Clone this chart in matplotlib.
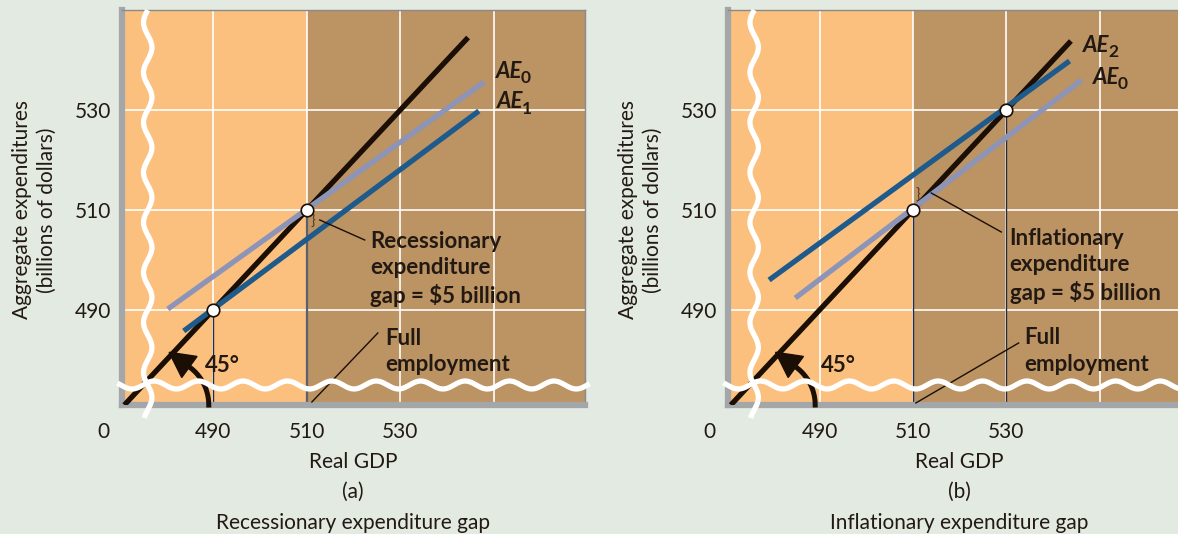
import numpy as np
import matplotlib
matplotlib.use("Agg")
import matplotlib.pyplot as plt
from matplotlib.patches import Polygon
from matplotlib.transforms import IdentityTransform

plt.rcParams['font.family'] = ['Lato', 'DejaVu Sans']

# ---- data ----
ticks = [490, 510, 530]
tick_labels = ['490', '510', '530']
full_employment = 510

# panel (a): recessionary gap
diag_a = [471.0, 544.5]                 # 45-degree line, y = x
ae0_a_x = [480.3, 547.9]
ae0_a_y = [490.2, 535.6]
ae1_a_x = [483.7, 546.8]
ae1_a_y = [485.8, 529.8]
eq_a = [490, 510]                       # equilibrium points on the 45 line

# panel (b): inflationary gap
diag_b = [471.0, 543.8]
ae2_b_x = [479.2, 543.5]
ae2_b_y = [496.0, 539.8]
ae0_b_x = [484.8, 546.1]
ae0_b_y = [492.4, 536.0]
eq_b = [510, 530]

ORANGE = '#fcc07e'
BROWN = '#bc9363'
BG = '#e2eae2'
INK = '#221a12'
DARK = '#1a0e05'
BLUE = '#1e5a8c'
LIGHT = '#8c94b8'
FS = 15        # regular text
FB = 16        # bold annotations

fig = plt.figure(figsize=(11.78, 5.34), dpi=100, facecolor=BG)


def wavy(ax, xlim, ylim):
    # axis-break squiggles
    yy = np.linspace(ylim[1], ylim[0] - 2.6, 300)
    ax.plot(476 + 0.9 * np.sin(2 * np.pi * yy / 10.0), yy, color='white',
            lw=3.8, clip_on=False, zorder=8, solid_capstyle='butt')
    xx = np.linspace(xlim[0] - 1.0, xlim[1] + 1.0, 400)
    ax.plot(xx, 475 + 0.8 * np.sin(2 * np.pi * xx / 9.5), color='white',
            lw=3.8, clip_on=False, zorder=8, solid_capstyle='butt')


def base_panel(rect, xlim, ylim):
    ax = fig.add_axes(rect)
    ax.set_xlim(*xlim)
    ax.set_ylim(*ylim)
    ax.axvspan(xlim[0], full_employment, color=ORANGE, zorder=0, lw=0)
    ax.axvspan(full_employment, xlim[1], color=BROWN, zorder=0, lw=0)
    for t in ticks + [550]:
        ax.axvline(t, color='white', lw=1.2, zorder=1)
    for t in ticks:
        ax.axhline(t, color='white', lw=1.2, zorder=1)
    ax.set_xticks(ticks)
    ax.set_xticklabels(tick_labels)
    ax.set_yticks(ticks)
    ax.set_yticklabels(tick_labels)
    ax.tick_params(length=0, labelsize=FS, labelcolor=INK)
    ax.tick_params(axis='x', pad=12)
    ax.tick_params(axis='y', pad=8)
    for s in ['left', 'bottom']:
        ax.spines[s].set_color('#a4a7aa')
        ax.spines[s].set_linewidth(4.5)
    for s in ['top', 'right']:
        ax.spines[s].set_color('#8a8a8a')
        ax.spines[s].set_linewidth(1)
    ax.annotate('0', xy=(466.5, 0), xycoords=('data', 'axes fraction'),
                xytext=(0, -19.5), textcoords='offset points',
                ha='center', va='center', fontsize=FS, color=INK,
                annotation_clip=False)
    ax.text(-0.19, 0.494, 'Aggregate expenditures\n(billions of dollars)',
            transform=ax.transAxes, rotation=90, ha='center', va='center',
            fontsize=FS, color=INK, linespacing=1.3)
    wavy(ax, xlim, ylim)
    return ax


def ae_label(ax, x, y, sub):
    t = ax.text(x, y, 'AE', fontsize=16, fontweight='bold', fontstyle='italic',
                color=INK, va='center', ha='left', zorder=9)
    ax.annotate(sub, xy=(1, 0), xycoords=t, xytext=(-1, -3),
                textcoords='offset points', fontsize=12.5, fontweight='bold',
                color=INK, va='bottom', ha='left', zorder=9)


def angle_mark(ax, centre, tx):
    # curved arrow showing the 45 degree angle, built in pixel space
    cx, cy = ax.transData.transform(centre)
    r = 47
    th = np.radians(np.linspace(0, 54, 40))
    ax.plot(cx + r * np.cos(th), cy + r * np.sin(th), color=DARK, lw=3.6,
            transform=IdentityTransform(), zorder=5, clip_on=False)
    t_end = th[-1]
    px, py = cx + r * np.cos(t_end), cy + r * np.sin(t_end)
    tx_, ty_ = -np.sin(t_end), np.cos(t_end)
    nx_, ny_ = ty_, -tx_
    L, W = 25, 13
    head = [(px + L * tx_, py + L * ty_),
            (px + W * nx_, py + W * ny_),
            (px - W * nx_, py - W * ny_)]
    ax.add_patch(Polygon(head, closed=True, color=DARK, transform=IdentityTransform(),
                         zorder=5, clip_on=False))
    ax.text(tx, 479, '45°', fontsize=FB, fontweight='bold', color=INK,
            va='center', ha='left', zorder=9)


# ---------------- panel (a) ----------------
xa, ya = (470.5, 569.5), (471.0, 550.0)
ax = base_panel([122 / 1178, 1 - 405 / 534, 463 / 1178, 395 / 534], xa, ya)
ax.plot([eq_a[0], eq_a[0]], [ya[0], eq_a[0]], color='#2a2a3a', lw=1, zorder=2)
ax.plot([full_employment] * 2, [ya[0], eq_a[1]], color='#5a6070', lw=1.6, zorder=2)
ax.plot(diag_a, diag_a, color=DARK, lw=3.8, zorder=3, solid_capstyle='butt')
ax.plot(ae0_a_x, ae0_a_y, color=LIGHT, lw=3.8, zorder=3, solid_capstyle='butt')
ax.plot(ae1_a_x, ae1_a_y, color=BLUE, lw=3.8, zorder=4, solid_capstyle='butt')
ax.plot(eq_a, eq_a, 'o', ms=9, mfc='white', mec=DARK, mew=1.2, zorder=6)
ax.text(511.4, 507.6, '}', fontsize=11, color='#5a3a1a', ha='center', va='center', zorder=5)
ax.plot([512.8, 522.4], [508.0, 504.0], color=DARK, lw=1, zorder=5)
ax.text(523.5, 498.2, 'Recessionary\nexpenditure\ngap = $5 billion', fontsize=FB,
        fontweight='bold', color=INK, ha='left', va='center', linespacing=1.33, zorder=9)
ax.plot([511.1, 525.2], [471.6, 485.4], color=DARK, lw=1, zorder=5)
ax.text(526.7, 481.7, 'Full\nemployment', fontsize=FB, fontweight='bold', color=INK,
        ha='left', va='center', linespacing=1.33, zorder=9)
ae_label(ax, 550.4, 537.8, '0')
ae_label(ax, 550.6, 531.6, '1')
angle_mark(ax, (479.0, 471.0), 488.2)

fig.text(353 / 1178, 1 - 462 / 534, 'Real GDP', ha='center', va='center', fontsize=FS, color=INK)
fig.text(353 / 1178, 1 - 492 / 534, '(a)', ha='center', va='center', fontsize=FS, color=INK)
fig.text(353 / 1178, 1 - 523 / 534, 'Recessionary expenditure gap', ha='center', va='center',
         fontsize=FS, color=INK)

# ---------------- panel (b) ----------------
xb, yb = (470.4, 569.5), (471.0, 550.0)
bx = base_panel([728 / 1178, 1 - 405 / 534, 463 / 1178, 395 / 534], xb, yb)
for e in eq_b:
    bx.plot([e, e], [yb[0], e], color='#2a2a3a', lw=1, zorder=2)
bx.plot(diag_b, diag_b, color=DARK, lw=3.8, zorder=3, solid_capstyle='butt')
bx.plot(ae0_b_x, ae0_b_y, color=LIGHT, lw=3.8, zorder=3, solid_capstyle='butt')
bx.plot(ae2_b_x, ae2_b_y, color=BLUE, lw=3.8, zorder=4, solid_capstyle='butt')
bx.plot(eq_b, eq_b, 'o', ms=9, mfc='white', mec=DARK, mew=1.2, zorder=6)
bx.text(511.0, 512.8, '}', fontsize=11, color='#5a3a1a', ha='center', va='center', zorder=5)
bx.plot([513.9, 528.9], [513.4, 505.6], color=DARK, lw=1, zorder=5)
bx.text(530.7, 498.8, 'Inflationary\nexpenditure\ngap = $5 billion', fontsize=FB,
        fontweight='bold', color=INK, ha='left', va='center', linespacing=1.33, zorder=9)
bx.plot([510.6, 532.6], [471.4, 483.4], color=DARK, lw=1, zorder=5)
bx.text(533.9, 481.8, 'Full\nemployment', fontsize=FB, fontweight='bold', color=INK,
        ha='left', va='center', linespacing=1.33, zorder=9)
ae_label(bx, 546.4, 543.0, '2')
ae_label(bx, 548.5, 536.6, '0')
angle_mark(bx, (479.0, 471.0), 490.2)

fig.text(959 / 1178, 1 - 462 / 534, 'Real GDP', ha='center', va='center', fontsize=FS, color=INK)
fig.text(959 / 1178, 1 - 492 / 534, '(b)', ha='center', va='center', fontsize=FS, color=INK)
fig.text(959 / 1178, 1 - 523 / 534, 'Inflationary expenditure gap', ha='center', va='center',
         fontsize=FS, color=INK)

fig.savefig('out.png', dpi=100, facecolor=BG)
